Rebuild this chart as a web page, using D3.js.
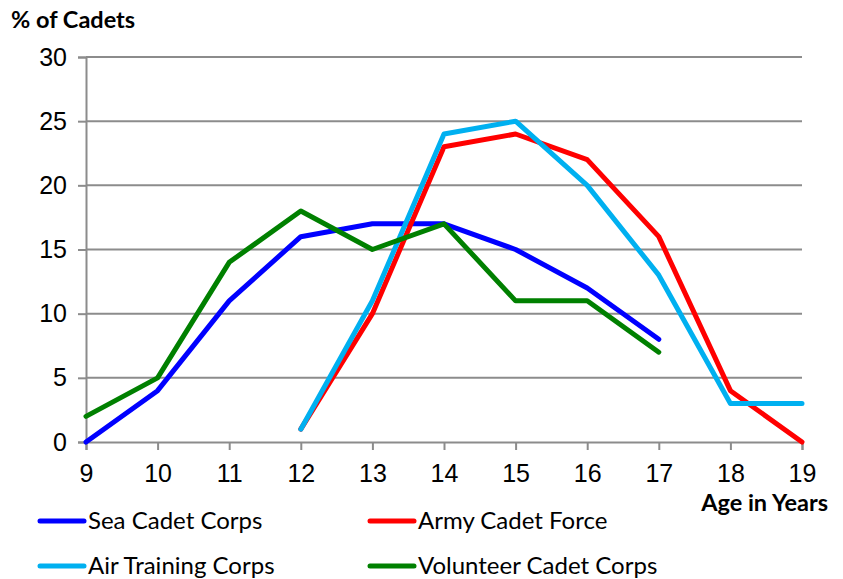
<!DOCTYPE html>
<html>
<head>
<meta charset="utf-8">
<script src="https://cdn.jsdelivr.net/npm/d3@7"></script>
<style>
  body { margin: 0; background: #fff; }
  svg { display: block; }
</style>
</head>
<body>
<svg width="843" height="579"></svg>
<script>
var ages = [9, 10, 11, 12, 13, 14, 15, 16, 17, 18, 19];
var yTicks = [0, 5, 10, 15, 20, 25, 30];

var seaCadet = [[9, 0], [10, 4], [11, 11], [12, 16], [13, 17], [14, 17], [15, 15], [16, 12], [17, 8]];
var armyCadet = [[12, 1], [13, 10], [14, 23], [15, 24], [16, 22], [17, 16], [18, 4], [19, 0]];
var airTraining = [[12, 1], [13, 11], [14, 24], [15, 25], [16, 20], [17, 13], [18, 3], [19, 3]];
var volunteer = [[9, 2], [10, 5], [11, 14], [12, 18], [13, 15], [14, 17], [15, 11], [16, 11], [17, 7]];

var seriesNames = ["Sea Cadet Corps", "Army Cadet Force", "Air Training Corps", "Volunteer Cadet Corps"];
var seriesData = [seaCadet, armyCadet, airTraining, volunteer];
var seriesColors = ["#0000FF", "#FF0000", "#00B0F0", "#008000"];

var svg = d3.select("svg"),
    margin = { top: 57, right: 41, bottom: 137, left: 86 },
    width = 843 - margin.left - margin.right,
    height = 579 - margin.top - margin.bottom;

var x = d3.scaleLinear().domain([9, 19]).range([0, width]);
var y = d3.scaleLinear().domain([0, 30]).range([height, 0]);

var g = svg.append("g")
    .attr("transform", "translate(" + margin.left + "," + margin.top + ")");

// gridlines
g.selectAll(".grid")
    .data(yTicks.filter(function (d) { return d > 0; }))
    .enter().append("line")
    .attr("x1", 0).attr("x2", width)
    .attr("y1", function (d) { return y(d); })
    .attr("y2", function (d) { return y(d); })
    .attr("stroke", "#8c8c8c")
    .attr("stroke-width", 2);

var xAxis = g.append("g")
    .attr("transform", "translate(0," + height + ")")
    .call(d3.axisBottom(x).tickValues(ages).tickFormat(d3.format("d")).tickSize(8).tickPadding(14));

var yAxis = g.append("g")
    .call(d3.axisLeft(y).tickValues(yTicks).tickSize(8).tickPadding(11));

[xAxis, yAxis].forEach(function (a) {
    a.select(".domain").attr("stroke", "#8c8c8c").attr("stroke-width", 2);
    a.selectAll(".tick line").attr("stroke", "#8c8c8c").attr("stroke-width", 2);
    a.selectAll("text")
        .attr("fill", "#000")
        .style("font-family", "'Liberation Sans', Arial, sans-serif")
        .style("font-size", "25px");
});

var line = d3.line()
    .x(function (d) { return x(d[0]); })
    .y(function (d) { return y(d[1]); });

seriesData.forEach(function (s, i) {
    g.append("path")
        .datum(s)
        .attr("fill", "none")
        .attr("stroke", seriesColors[i])
        .attr("stroke-width", 5)
        .attr("stroke-linejoin", "round")
        .attr("stroke-linecap", "round")
        .attr("d", line);
});

svg.append("text")
    .attr("x", 11).attr("y", 28)
    .style("font-family", "Lato, 'Open Sans', sans-serif")
    .style("font-weight", "bold")
    .style("font-size", "23.5px")
    .text("% of Cadets");

svg.append("text")
    .attr("x", 828).attr("y", 511)
    .attr("text-anchor", "end")
    .style("font-family", "Lato, 'Open Sans', sans-serif")
    .style("font-weight", "bold")
    .style("font-size", "23.5px")
    .text("Age in Years");

// legend
var legendPos = [[40, 521], [370, 521], [40, 566], [370, 566]];
var legend = svg.selectAll(".legend")
    .data(seriesNames)
    .enter().append("g")
    .attr("transform", function (d, i) { return "translate(" + legendPos[i][0] + "," + legendPos[i][1] + ")"; });

legend.append("line")
    .attr("x1", 0).attr("x2", 44)
    .attr("stroke", function (d, i) { return seriesColors[i]; })
    .attr("stroke-width", 5)
    .attr("stroke-linecap", "round");

legend.append("text")
    .attr("x", 48).attr("y", 8)
    .style("font-family", "Lato, 'Open Sans', sans-serif")
    .style("font-size", "24px")
    .text(function (d) { return d; });
</script>
</body>
</html>
